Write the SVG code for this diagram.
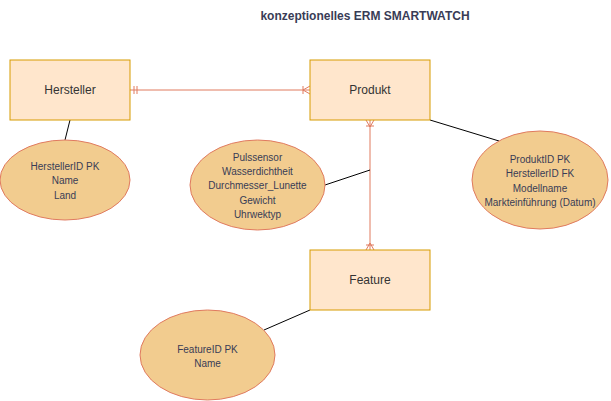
<svg xmlns="http://www.w3.org/2000/svg" width="611" height="401" viewBox="0 0 611 401">
<style>
.ent{fill:#ffe6cc;stroke:#d79b00;stroke-width:1}
.att{fill:#F2CC8F;stroke:#E07A5F;stroke-width:1}
.lbl{font-family:"Liberation Sans",Arial,sans-serif;font-size:12px;fill:#333;text-anchor:middle}
.al{font-family:"Liberation Sans",Arial,sans-serif;font-size:10px;fill:#393C56;text-anchor:middle}
.rel{stroke:#E07A5F;stroke-width:1;fill:none}
.ln{stroke:#000;stroke-width:1;fill:none}
</style>
<rect width="611" height="401" fill="#fff"/>
<text x="365" y="20" font-family="'Liberation Sans',Arial,sans-serif" font-size="12" font-weight="bold" fill="#393C56" text-anchor="middle">konzeptionelles ERM SMARTWATCH</text>
<g id="connectors">
<path class="rel" d="M130,90 H310 M134,86 V94 M137,86 V94 M303,86 V94 M303,90 L310,86 M303,90 L310,94"/>
<path class="rel" d="M370,120 V250 M366,120 L370,127 L374,120 M366,126 H374 M366,250 L370,243 L374,250 M366,245 H374"/>
<path class="ln" d="M70,120 L65,140"/>
<path class="ln" d="M325,185 L370,170"/>
<path class="ln" d="M430,120 L499,141"/>
<path class="ln" d="M310,310 L264,330"/>
</g>
<g id="hersteller"><rect class="ent" x="10" y="60" width="120" height="60"/><text class="lbl" x="70" y="94">Hersteller</text></g>
<g id="produkt"><rect class="ent" x="310" y="60" width="120" height="60"/><text class="lbl" x="370" y="94">Produkt</text></g>
<g id="feature"><rect class="ent" x="310" y="250" width="120" height="60"/><text class="lbl" x="370" y="284">Feature</text></g>
<g id="attr-hersteller"><ellipse class="att" cx="65" cy="180" rx="65" ry="40"/>
<text class="al" x="65" y="170">HerstellerID PK</text><text class="al" x="65" y="184">Name</text><text class="al" x="65" y="199">Land</text></g>
<g id="attr-eigenschaften"><ellipse class="att" cx="257.5" cy="185" rx="67.5" ry="45"/>
<text class="al" x="257.5" y="161">Pulssensor</text><text class="al" x="257.5" y="175">Wasserdichtheit</text><text class="al" x="257.5" y="189">Durchmesser_Lunette</text><text class="al" x="257.5" y="204">Gewicht</text><text class="al" x="257.5" y="218">Uhrwektyp</text></g>
<g id="attr-produkt"><ellipse class="att" cx="540" cy="180" rx="68" ry="49"/>
<text class="al" x="540" y="163">ProduktID PK</text><text class="al" x="540" y="177">HerstellerID FK</text><text class="al" x="540" y="192">Modellname</text><text class="al" x="540" y="206">Markteinführung (Datum)</text></g>
<g id="attr-feature"><ellipse class="att" cx="207.5" cy="355" rx="67.5" ry="45"/>
<text class="al" x="207.5" y="353">FeatureID PK</text><text class="al" x="207.5" y="367">Name</text></g>
</svg>
